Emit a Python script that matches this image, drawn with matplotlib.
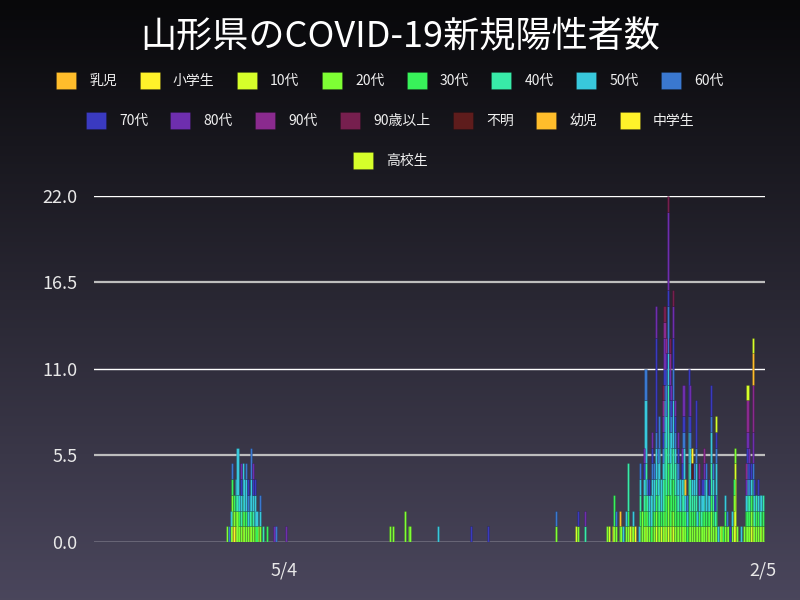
import numpy as np
import pandas as pd
import matplotlib
matplotlib.use("Agg")
import matplotlib.pyplot as plt
from matplotlib.patches import Patch
from matplotlib.ticker import FormatStrFormatter

plt.rcParams['font.family'] = ['Noto Sans CJK JP', 'DejaVu Sans']

title = "山形県のCOVID-19新規陽性者数"
start = "2020-01-15"
end = "2021-02-05"

labels = ["乳児", "小学生", "10代", "20代", "30代", "40代", "50代", "60代",
          "70代", "80代", "90代", "90歳以上", "不明", "幼児", "中学生", "高校生"]
colors = ["#ffbd2b", "#fff22a", "#d6ff2a", "#7eff34", "#38f25a", "#38eba8",
          "#38c8dc", "#3a78d0", "#3a3ac0", "#6e2eae", "#8a2a8e", "#761f4e",
          "#5e1c1c", "#ffbd2b", "#fff22a", "#d6ff2a"]

# new cases per day for each group, "M/D" (Mar-Dec = 2020, Jan-Feb = 2021)
infant = {}
elementary = {"4/4": 1, "4/5": 1, "11/10": 1, "11/23": 1, "1/20": 1}
teens = {"4/6": 1, "4/10": 1, "4/14": 1, "4/19": 1, "10/20": 1, "11/8": 1,
         "11/21": 1, "11/29": 1, "12/5": 1, "12/8": 1, "12/10": 1, "12/12": 1,
         "12/14": 1, "12/15": 1, "12/20": 1, "1/4": 1, "1/12": 1, "1/19": 2,
         "1/20": 4, "1/29": 1, "1/30": 1, "2/4": 1}
twenties = {"4/1": 1, "4/3": 1, "4/4": 2, "4/5": 1, "4/6": 1, "4/7": 2, "4/8": 1,
            "4/9": 1, "4/10": 1, "4/11": 1, "4/12": 1, "4/13": 1, "4/15": 1,
            "4/16": 1, "4/17": 1, "4/20": 1, "7/4": 1, "7/6": 1, "7/13": 2,
            "7/15": 1, "7/16": 1, "10/8": 1, "10/21": 1, "11/7": 1, "11/11": 1,
            "11/12": 1, "11/14": 1, "11/15": 1, "11/18": 1, "11/19": 1,
            "11/22": 1, "11/26": 1, "11/27": 2, "11/28": 1, "11/29": 1,
            "11/30": 1, "12/1": 1, "12/3": 1, "12/4": 1, "12/5": 1, "12/6": 1,
            "12/7": 1, "12/9": 1, "12/10": 1, "12/11": 1, "12/12": 2,
            "12/13": 1, "12/14": 1, "12/15": 1, "12/16": 1, "12/17": 1,
            "12/18": 1, "12/19": 1, "12/21": 1, "12/22": 1, "12/24": 1,
            "12/25": 1, "12/26": 1, "12/27": 1, "12/28": 1, "12/29": 1,
            "12/30": 1, "12/31": 1, "1/1": 1, "1/2": 1, "1/3": 1, "1/5": 1,
            "1/6": 2, "1/7": 1, "1/8": 1, "1/9": 1, "1/11": 1, "1/14": 1,
            "1/15": 1, "1/16": 1, "1/18": 1, "1/19": 1, "1/20": 1, "1/21": 1,
            "1/25": 1, "1/26": 1, "1/27": 1, "1/28": 1, "1/29": 1, "1/30": 1,
            "1/31": 1, "2/1": 1, "2/2": 1, "2/3": 1, "2/5": 1}
thirties = {"4/4": 1, "4/5": 1, "4/8": 1, "4/11": 1, "4/12": 1, "4/15": 1,
            "4/18": 1, "4/24": 1, "11/11": 2, "11/19": 1, "11/26": 1,
            "11/28": 1, "11/29": 1, "11/30": 1, "12/2": 1, "12/3": 1, "12/4": 1,
            "12/5": 1, "12/6": 1, "12/7": 1, "12/8": 1, "12/9": 1, "12/10": 2,
            "12/11": 2, "12/12": 2, "12/13": 2, "12/14": 2, "12/15": 2,
            "12/16": 2, "12/17": 1, "12/18": 1, "12/19": 1, "12/20": 1,
            "12/21": 1, "12/22": 1, "12/23": 1, "12/24": 2, "12/25": 1,
            "12/26": 1, "12/27": 1, "12/28": 1, "12/30": 1, "1/1": 1, "1/2": 1,
            "1/3": 1, "1/4": 1, "1/5": 1, "1/6": 1, "1/7": 1, "1/9": 1,
            "1/13": 1, "1/14": 1, "1/19": 1, "1/26": 1, "1/27": 1, "1/28": 1,
            "1/29": 1, "1/30": 1, "2/1": 1, "2/2": 1, "2/4": 1, "2/5": 1}
forties = {"4/6": 1, "4/7": 1, "4/9": 1, "4/10": 1, "4/14": 1, "4/16": 1,
           "4/22": 1, "10/25": 1, "11/19": 3, "11/26": 1, "11/28": 1,
           "11/29": 2, "11/30": 1, "12/1": 1, "12/3": 1, "12/5": 1, "12/6": 1,
           "12/7": 2, "12/9": 2, "12/10": 3, "12/11": 3, "12/12": 5, "12/13": 2,
           "12/14": 2, "12/15": 2, "12/16": 2, "12/17": 1, "12/18": 1,
           "12/20": 1, "12/21": 2, "12/24": 2, "12/25": 2, "12/26": 1,
           "12/27": 1, "12/28": 1, "12/31": 1, "1/2": 1, "1/6": 2, "1/7": 1,
           "1/8": 1, "1/9": 1, "1/27": 1, "1/28": 1, "1/30": 1, "1/31": 1,
           "2/1": 1, "2/3": 1, "2/5": 1}
fifties = {"4/3": 1, "4/6": 1, "4/7": 3, "4/8": 1, "4/9": 1, "4/10": 2,
           "4/11": 2, "4/12": 2, "4/13": 1, "4/14": 1, "4/15": 2, "4/16": 1,
           "4/17": 2, "4/18": 1, "4/20": 1, "8/1": 1, "11/16": 1, "11/18": 1,
           "11/22": 1, "11/25": 1, "11/26": 1, "11/28": 1, "11/29": 4, "12/1": 1,
           "12/2": 2, "12/3": 1, "12/4": 2, "12/5": 2, "12/6": 2, "12/7": 2,
           "12/8": 2, "12/9": 1, "12/10": 2, "12/11": 2, "12/12": 2, "12/13": 2,
           "12/14": 1, "12/15": 3, "12/16": 1, "12/17": 2, "12/18": 1,
           "12/19": 2, "12/20": 1, "12/21": 2, "12/22": 1, "12/23": 1,
           "12/24": 2, "12/25": 2, "12/26": 1, "12/27": 1, "12/28": 2,
           "12/29": 1, "12/30": 1, "12/31": 1, "1/1": 1, "1/2": 1, "1/3": 2,
           "1/4": 1, "1/5": 1, "1/6": 2, "1/7": 1, "1/9": 2, "1/10": 1,
           "1/14": 1, "1/18": 1, "1/23": 1, "1/26": 1, "1/27": 1, "1/29": 1,
           "1/31": 1, "2/2": 1, "2/3": 1, "2/4": 1}
sixties = {"4/2": 1, "4/4": 1, "4/12": 1, "4/13": 1, "4/15": 2, "4/20": 1,
           "4/29": 1, "10/8": 1, "11/12": 1, "11/26": 1, "11/29": 2,
           "11/30": 1, "12/3": 1, "12/4": 1, "12/5": 1, "12/6": 1, "12/7": 2,
           "12/9": 1, "12/10": 1, "12/11": 3, "12/12": 3, "12/13": 2,
           "12/14": 1, "12/15": 2, "12/16": 1, "12/18": 1, "12/21": 1,
           "12/23": 1, "12/24": 1, "12/25": 1, "12/27": 1, "12/28": 1,
           "1/3": 1, "1/6": 1, "1/7": 1, "1/9": 1, "1/15": 1, "1/27": 1,
           "1/28": 1, "1/30": 1}
seventies = {"4/9": 1, "4/13": 1, "4/16": 1, "4/17": 1, "8/20": 1, "8/30": 1,
             "10/21": 1, "11/28": 1, "12/1": 1, "12/3": 1, "12/5": 6,
             "12/9": 1, "12/10": 1, "12/11": 1, "12/12": 1, "12/13": 1,
             "12/14": 1, "12/15": 2, "12/16": 1, "12/18": 1, "12/20": 1,
             "12/21": 1, "12/24": 3, "12/25": 1, "12/28": 3, "1/1": 1, "1/5": 1,
             "1/6": 2, "1/8": 1, "1/9": 1, "1/17": 1, "1/27": 1, "1/28": 1,
             "1/29": 1, "1/31": 1, "2/2": 1}
eighties = {"4/9": 1, "4/16": 1, "4/28": 1, "5/5": 1, "10/25": 1, "11/28": 1,
            "12/3": 1, "12/5": 2, "12/9": 1, "12/10": 2, "12/12": 5,
            "12/13": 1, "12/14": 1, "12/15": 2, "12/16": 1, "12/18": 1,
            "12/20": 1, "12/21": 2, "12/25": 2, "12/30": 1, "1/2": 1,
            "1/26": 1, "1/27": 1, "1/28": 1, "1/30": 2}
nineties = {"12/9": 1, "12/10": 1, "12/11": 1, "12/13": 1, "12/30": 1,
            "1/2": 1, "1/26": 1, "1/27": 2, "1/30": 3}
over90 = {"12/9": 1, "12/10": 1, "12/12": 1, "12/13": 1, "12/15": 1}
unknown = {"12/26": 1}
toddler = {"11/14": 1, "12/22": 1, "1/30": 2}
junior_high = {"12/26": 1}
high_school = {"11/20": 1, "1/9": 1, "1/27": 1, "1/30": 1}

groups = [infant, elementary, teens, twenties, thirties, forties, fifties,
          sixties, seventies, eighties, nineties, over90, unknown, toddler,
          junior_high, high_school]


def to_date(key):
    m, d = map(int, key.split("/"))
    return pd.Timestamp(2020 if m >= 3 else 2021, m, d)


days = pd.date_range(start, end)
df = pd.DataFrame(0, index=days, columns=labels)
for lab, g in zip(labels, groups):
    for k, v in g.items():
        df.loc[to_date(k), lab] = v

fig = plt.figure(figsize=(8, 6), dpi=100)

# background gradient
bg = fig.add_axes([0, 0, 1, 1], zorder=-1)
top_c = np.array([8, 8, 10]) / 255
bot_c = np.array([74, 70, 92]) / 255
t = np.linspace(0, 1, 300)[:, None, None]
bg.imshow(top_c + (bot_c - top_c) * t, aspect='auto', extent=[0, 1, 0, 1])
bg.axis('off')

ax = fig.add_axes([0.1175, 0.0967, 0.8388, 0.5767])
ax.patch.set_alpha(0)

edge = (0, 0, 0, 0.25)
bottom = np.zeros(len(days))
for lab, c in zip(labels, colors):
    vals = df[lab].values.astype(float)
    m = vals > 0
    if m.any():
        ax.bar(days[m], vals[m], bottom=bottom[m], width=1.2, color=c,
               edgecolor=edge, linewidth=0.4, zorder=3)
    bottom += vals

yticks = [0, 5.5, 11, 16.5, 22]
for i, v in enumerate(yticks):
    if i % 2 == 0:
        ax.axhline(v, color='white', lw=1.0, zorder=1)
    else:
        ax.axhline(v, color='#bdbdbd', lw=1.6, zorder=1)

ax.set_ylim(0, 22)
ax.set_yticks(yticks)
ax.yaxis.set_major_formatter(FormatStrFormatter('%.1f'))
ax.set_xlim(pd.Timestamp("2020-01-15"), pd.Timestamp("2021-02-06 04:00"))
ax.set_xticks([pd.Timestamp("2020-05-04"), pd.Timestamp("2021-02-05")])
ax.set_xticklabels(["5/4", "2/5"])
ax.tick_params(axis='y', length=0, pad=12, labelsize=13, labelcolor='#e8e8e8')
ax.tick_params(axis='x', length=0, pad=14, labelsize=13, labelcolor='#e8e8e8')
for s in ax.spines.values():
    s.set_visible(False)

fig.text(0.5, 0.937, title, ha='center', va='center', fontsize=26, color='white')

handles = [Patch(facecolor=c, edgecolor=edge, linewidth=0.4) for c in colors]
rows = [(0, 8), (8, 15), (15, 16)]
row_y = [0.866, 0.799, 0.732]
for (a, b), y in zip(rows, row_y):
    fig.legend(handles[a:b], labels[a:b], loc='center', bbox_to_anchor=(0.4875, y),
               ncol=b - a, frameon=False, fontsize=10, handlelength=1.45,
               handleheight=1.5, handletextpad=0.95, columnspacing=1.6,
               labelcolor='#f0f0f0', borderpad=0, borderaxespad=0)

fig.savefig('out.png', dpi=100)
